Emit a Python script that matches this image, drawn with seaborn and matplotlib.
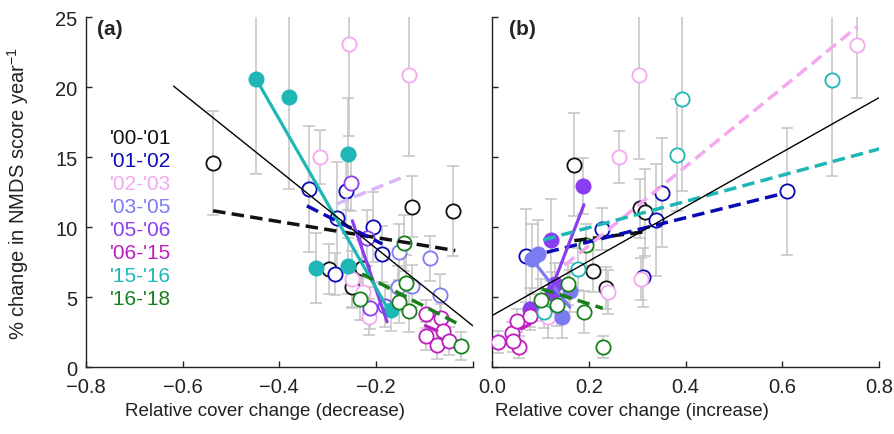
import matplotlib
matplotlib.use("Agg")
import matplotlib.pyplot as plt
import pandas as pd
import seaborn as sns

# ---------------- data ----------------
periods = ["'00-'01", "'01-'02", "'02-'03", "'03-'05", "'05-'06", "'06-'15", "'15-'16", "'16-'18"]

# Panel (a): relative cover change (decrease); tuples are (x, y, error)
a_00_01 = [(-0.537, 14.6, 3.7), (-0.298, 7.0, 1.8), (-0.228, 7.07, 2.0), (-0.250, 5.74, 1.5),
           (-0.125, 11.47, 2.2), (-0.041, 11.14, 3.2)]
a_01_02 = [(-0.338, 12.74, 4.5), (-0.262, 12.55, 2.5), (-0.281, 10.64, 4.0), (-0.206, 10.0, 2.5),
           (-0.188, 8.09, 2.0), (-0.285, 6.66, 1.5)]
a_02_03 = [(-0.256, 23.09, 6.6), (-0.132, 20.88, 5.8), (-0.316, 15.0, 1.95), (-0.250, 6.29, 2.0),
           (-0.226, 5.37, 2.0), (-0.214, 3.6, 1.3)]
a_03_05 = [(-0.152, 8.26, 2.0), (-0.088, 7.78, 1.6), (-0.068, 5.16, 1.5), (-0.154, 5.71, 1.5),
           (-0.126, 5.83, 1.5)]
a_05_06 = [(-0.252, 13.14, 2.0), (-0.218, 9.21, 2.0), (-0.212, 4.24, 1.5), (-0.181, 4.4, 1.5)]
a_06_15 = [(-0.097, 3.81, 1.0), (-0.065, 3.5, 1.0), (-0.097, 2.21, 1.0), (-0.061, 2.61, 1.0),
           (-0.073, 1.59, 1.0), (-0.050, 1.9, 1.0)]
a_15_16 = [(-0.448, 20.57, 6.8), (-0.380, 19.29, 6.6), (-0.257, 15.24, 4.0), (-0.325, 7.07, 2.5),
           (-0.259, 7.21, 2.0), (-0.169, 4.09, 1.5)]
a_16_18 = [(-0.142, 8.86, 2.0), (-0.138, 6.02, 2.0), (-0.152, 4.64, 1.5), (-0.131, 4.04, 1.5),
           (-0.025, 1.5, 1.0), (-0.233, 4.88, 1.5)]

# Panel (a) fitted lines: ([x0, x1], [y0, y1])
fit_a_00_01 = ([-0.537, -0.036], [11.17, 8.33])
fit_a_01_02 = ([-0.343, -0.187], [11.52, 8.80])
fit_a_02_03 = ([-0.281, -0.138], [11.66, 13.66])
fit_a_05_06 = ([-0.249, -0.177], [10.46, 3.24])
fit_a_06_15 = ([-0.098, -0.074], [2.97, 2.62])
fit_a_15_16 = ([-0.448, -0.175], [20.57, 4.16])
fit_a_16_18 = ([-0.229, -0.023], [6.66, 2.97])
fit_a_all = ([-0.619, 0.0], [20.07, 2.97])

# Panel (b): relative cover change (increase)
b_00_01 = [(0.170, 14.47, 3.7), (0.305, 11.36, 2.1), (0.316, 11.07, 3.1), (0.208, 6.9, 1.5),
           (0.236, 5.64, 1.5)]
b_01_02 = [(0.351, 12.45, 3.9), (0.339, 10.54, 4.0), (0.313, 6.43, 2.1), (0.609, 12.55, 4.5),
           (0.227, 9.88, 1.5), (0.070, 7.97, 3.3)]
b_02_03 = [(0.304, 20.88, 6.0), (0.263, 15.0, 1.85), (0.755, 23.02, 3.8), (0.116, 3.6, 1.5),
           (0.240, 5.38, 1.55), (0.307, 6.3, 1.5)]
b_03_05 = [(0.082, 7.74, 2.5), (0.096, 8.09, 2.4), (0.144, 3.57, 1.5), (0.161, 5.47, 1.5)]
b_05_06 = [(0.189, 12.97, 2.0), (0.121, 9.09, 2.9), (0.130, 5.95, 1.5), (0.079, 4.17, 1.5),
           (0.125, 5.3, 1.5)]
b_06_15 = [(0.013, 1.79, 0.8), (0.041, 2.45, 0.8), (0.056, 1.43, 0.8), (0.052, 3.33, 0.8),
           (0.079, 3.69, 0.8), (0.043, 1.9, 0.8)]
b_15_16 = [(0.393, 19.16, 6.6), (0.383, 15.12, 4.0), (0.702, 20.47, 6.8), (0.177, 7.02, 1.5),
           (0.107, 3.97, 1.2)]
b_16_18 = [(0.194, 8.74, 1.5), (0.158, 5.95, 1.5), (0.101, 4.83, 1.5), (0.135, 4.45, 1.5),
           (0.191, 3.97, 1.5), (0.229, 1.43, 0.8)]

fit_b_00_01 = ([0.17, 0.32], [9.04, 9.69])
fit_b_01_02 = ([0.113, 0.599], [8.21, 12.38])
fit_b_02_03 = ([0.15, 0.755], [7.28, 24.3])
fit_b_03_05 = ([0.082, 0.161], [7.74, 4.29])
fit_b_05_06 = ([0.123, 0.190], [5.59, 11.6])
fit_b_06_15 = ([0.061, 0.079], [2.74, 3.1])
fit_b_15_16 = ([0.106, 0.802], [9.09, 15.6])
fit_b_16_18 = ([0.103, 0.229], [5.59, 4.21])
fit_b_all = ([0.0, 0.8], [3.69, 19.24])

a_xticks = [-0.8, -0.6, -0.4, -0.2, 0.0]
a_xticklabels = ["\u22120.8", "\u22120.6", "\u22120.4", "\u22120.2", ""]
b_xticks = [0.0, 0.2, 0.4, 0.6, 0.8]
b_xticklabels = ["0.0", "0.2", "0.4", "0.6", "0.8"]
yticks = [0, 5, 10, 15, 20, 25]

# ---------------- style ----------------
COLORS = {"'00-'01": "#111111", "'01-'02": "#0a0ab4", "'02-'03": "#f4a8ef",
          "'03-'05": "#7c7cf2", "'05-'06": "#8a3ef0", "'06-'15": "#c01cc0",
          "'15-'16": "#1fb6b6", "'16-'18": "#17801a"}
FIT_COLORS = {("a", "'02-'03"): "#d9b6f6"}
FILLED = {"a": {"'15-'16"}, "b": {"'03-'05", "'05-'06"}}
DASHED = {"a": {"'00-'01", "'01-'02", "'02-'03", "'16-'18"},
          "b": {"'00-'01", "'01-'02", "'02-'03", "'15-'16", "'16-'18"}}
ERR_COLOR = "#c4c4c4"

sns.set_style("ticks")
plt.rcParams["font.family"] = ["Liberation Sans", "DejaVu Sans"]
plt.rcParams["mathtext.fontset"] = "custom"
plt.rcParams["mathtext.rm"] = "Liberation Sans"
plt.rcParams["mathtext.default"] = "regular"


def build(series):
    rows = []
    for p, pts in series.items():
        for x, y, e in pts:
            rows.append((p, x, y, e))
    return pd.DataFrame(rows, columns=["period", "x", "y", "err"])


df_a = build(dict(zip(periods, [a_00_01, a_01_02, a_02_03, a_03_05, a_05_06, a_06_15, a_15_16, a_16_18])))
df_b = build(dict(zip(periods, [b_00_01, b_01_02, b_02_03, b_03_05, b_05_06, b_06_15, b_15_16, b_16_18])))
fits_a = {"'00-'01": fit_a_00_01, "'01-'02": fit_a_01_02, "'02-'03": fit_a_02_03,
          "'05-'06": fit_a_05_06, "'06-'15": fit_a_06_15, "'15-'16": fit_a_15_16, "'16-'18": fit_a_16_18}
fits_b = {"'00-'01": fit_b_00_01, "'01-'02": fit_b_01_02, "'02-'03": fit_b_02_03,
          "'03-'05": fit_b_03_05, "'05-'06": fit_b_05_06, "'06-'15": fit_b_06_15,
          "'15-'16": fit_b_15_16, "'16-'18": fit_b_16_18}

W, H = 895, 435
fig = plt.figure(figsize=(W / 100, H / 100), dpi=100)
axA = fig.add_axes([86 / W, (H - 368.3) / H, 386.7 / W, 350.3 / H])
axB = fig.add_axes([492 / W, (H - 368.3) / H, 387 / W, 350.3 / H])

for ax, df, fits, fit_all, panel in [(axA, df_a, fits_a, fit_a_all, "a"),
                                     (axB, df_b, fits_b, fit_b_all, "b")]:
    ax.errorbar(df["x"], df["y"], yerr=df["err"], fmt="none", ecolor=ERR_COLOR,
                elinewidth=1.1, capsize=4, capthick=1.1, zorder=1)
    for p in periods:
        sub = df[df["period"] == p]
        if sub.empty:
            continue
        sns.scatterplot(data=sub, x="x", y="y", ax=ax, s=105, color=COLORS[p],
                        legend=False, zorder=3)
        coll = ax.collections[-1]
        coll.set_edgecolor(COLORS[p])
        coll.set_facecolor(COLORS[p] if p in FILLED[panel] else "white")
        coll.set_linewidth(1.3)
    for p, (xs, ys) in fits.items():
        col = FIT_COLORS.get((panel, p), COLORS[p])
        if p in DASHED[panel]:
            ax.plot(xs, ys, color=col, lw=2.5, ls=(0, (3.6, 1.8)), zorder=4,
                    solid_capstyle="butt", dash_capstyle="butt")
        else:
            ax.plot(xs, ys, color=col, lw=2.3, ls="-", zorder=4, solid_capstyle="round")
    ax.plot(fit_all[0], fit_all[1], color="black", lw=1.0, zorder=5)

    ax.set_ylim(0, 25)
    ax.set_yticks(yticks)
    for s in ["top", "right"]:
        ax.spines[s].set_visible(False)
    for s in ["left", "bottom"]:
        ax.spines[s].set_linewidth(1.0)
        ax.spines[s].set_color("#222222")
    ax.tick_params(direction="in", length=4, width=1.0, labelsize=14.5,
                   colors="#222222", labelcolor="#222222")
    ax.tick_params(axis="y", pad=6)
    ax.tick_params(axis="x", pad=7)
    ax.set_xlabel("")
    ax.set_ylabel("")

axA.set_xlim(-0.8, 0)
axA.set_xticks(a_xticks)
axA.set_xticklabels(a_xticklabels)
axB.set_xlim(0, 0.8)
axB.set_xticks(b_xticks)
axB.set_xticklabels(b_xticklabels)
axB.set_yticklabels([])

axA.set_ylabel("% change in NMDS score year$^{-1}$", fontsize=14.5, color="#222222")
axA.yaxis.set_label_coords(-0.142, 0.5)
axA.set_xlabel("Relative cover change (decrease)", fontsize=13.5, color="#222222")
axA.xaxis.set_label_coords(0.463, -0.098)
axB.set_xlabel("Relative cover change (increase)", fontsize=13.5, color="#222222")
axB.xaxis.set_label_coords(0.362, -0.098)

axA.text(0.028, 0.995, "(a)", transform=axA.transAxes, fontsize=15, fontweight="bold",
         va="top", ha="left")
axB.text(0.045, 0.995, "(b)", transform=axB.transAxes, fontsize=15, fontweight="bold",
         va="top", ha="left")

for i, p in enumerate(periods):
    axA.text(0.062, 0.655 - i * 0.0657, p, transform=axA.transAxes, fontsize=15,
             color=COLORS[p], va="center", ha="left")

fig.savefig("out.png", dpi=100)
